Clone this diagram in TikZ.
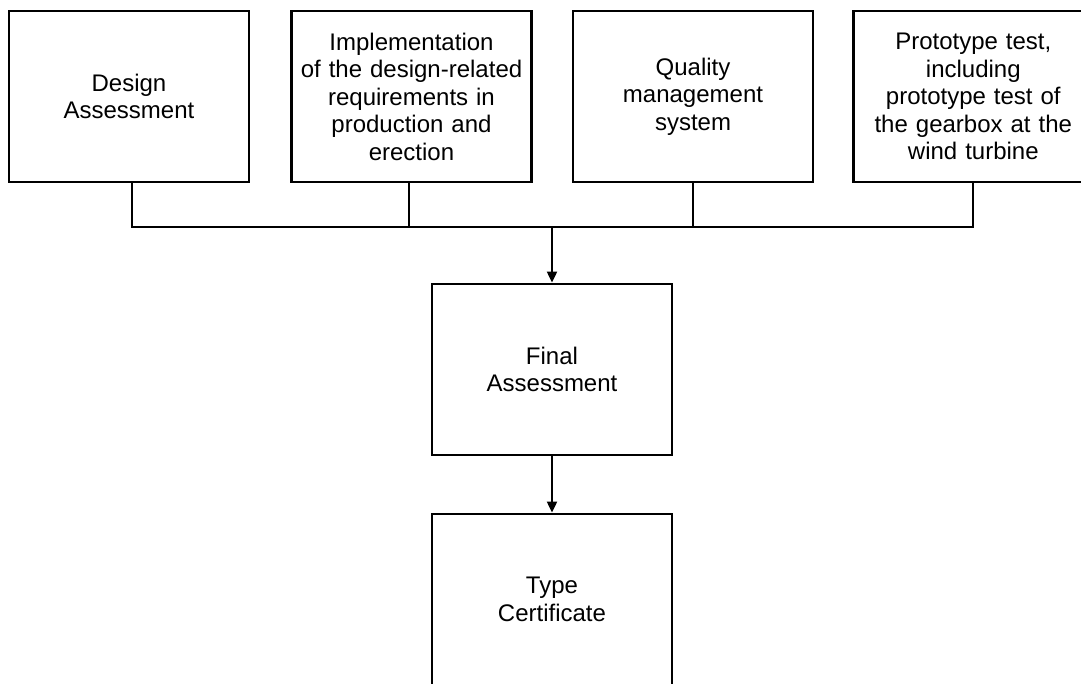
\documentclass[tikz,border=0pt]{standalone}
\usepackage{fontspec}
\setmainfont{Liberation Sans}
\usetikzlibrary{arrows.meta}
\begin{document}
\begin{tikzpicture}[x=1bp,y=-1bp,
  box/.style={draw, line width=2.8bp, minimum width=240bp, minimum height=171bp,
    inner sep=0pt, align=center, text width=232bp,
    font=\fontsize{24bp}{27.5bp}\selectfont},
  link/.style={line width=2bp},
  flow/.style={link, -{Triangle[length=11bp,width=10bp]}}]
\useasboundingbox (0,0) rectangle (1081,684);
\clip (0,0) rectangle (1081,684);

% upper row of inputs
\node[box] (design) at (129,96.5) {Design\\Assessment};
\node[box] (impl)   at (411.5,96.5) {Implementation\\of the design-related\\requirements in\\production and\\erection};
\node[box] (qms)    at (693,96.5) {Quality\\management\\system};
\node[box] (proto)  at (973.3,96.5) {Prototype test,\\including\\prototype test of\\the gearbox at the\\wind turbine};

% result chain
\node[box] (final) at (552,369.5) {Final\\Assessment};
\node[box] (type)  at (552,599.5) {Type\\Certificate};

% collecting bus
\coordinate (bus) at (552,227);
\draw[link] ([xshift=2.5bp]design.south) |- (bus -| proto.south) -- (proto.south);
\draw[link] ([xshift=-2.5bp]impl.south) -- ([xshift=-2.5bp]impl.south |- bus);
\draw[link] (qms.south) -- (qms.south |- bus);
\draw[flow] (final.north |- bus) -- (final.north);
\draw[flow] (final.south) -- (type.north);
\end{tikzpicture}
\end{document}
